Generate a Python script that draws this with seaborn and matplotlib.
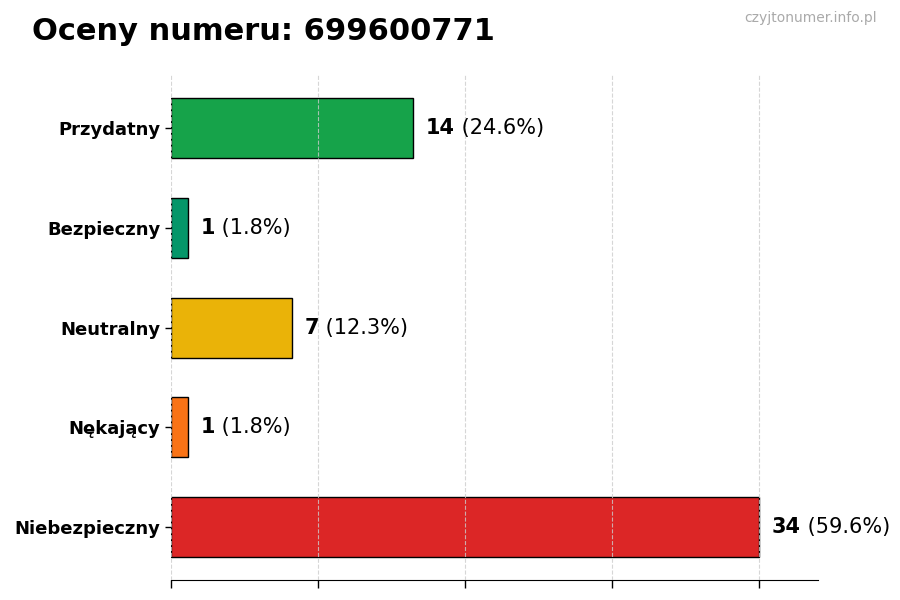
import seaborn as sns
import matplotlib.pyplot as plt
import numpy as np
import pandas as pd

categories = ["Przydatny", "Bezpieczny", "Neutralny", "Nękający", "Niebezpieczny"]
counts = [14, 1, 7, 1, 34]
colors = ["#16a34a", "#059669", "#eab308", "#f97316", "#dc2626"]
phone_number = "699600771"

total = sum(counts)
df = pd.DataFrame({"kategoria": categories, "liczba": counts})

sns.set_style("white")
plt.rcParams['font.family'] = ['DejaVu Sans']
plt.rcParams['text.color'] = 'black'
plt.rcParams['axes.labelcolor'] = 'black'
plt.rcParams['xtick.color'] = 'black'
plt.rcParams['ytick.color'] = 'black'

fig, ax = plt.subplots(figsize=(9, 6), dpi=100)
fig.subplots_adjust(left=0.19, right=0.909, top=0.875, bottom=0.033)

sns.barplot(
    data=df, y="kategoria", x="liczba", hue="kategoria",
    palette=colors, saturation=1, orient="h", width=0.6, edgecolor="black",
    linewidth=1, legend=False, ax=ax,
)

for bar, value in zip(ax.patches, counts):
    y = bar.get_y() + bar.get_height() / 2
    num = ax.annotate(str(value), xy=(bar.get_width(), y), xytext=(9, 0),
                      textcoords="offset points", va="center", ha="left",
                      fontsize=15, fontweight="bold", color="black")
    ax.annotate(f" ({value / total * 100:.1f}%)", xy=(1, 0.5), xycoords=num,
                va="center", ha="left", fontsize=15, color="black")

max_val = max(counts)
ax.set_xlim(0, max_val * 1.1)
ax.set_ylim(len(categories) - 1 + 0.53, -0.53)
ax.set_xticks(np.linspace(0, max_val, 5))
ax.set_xticklabels([])
ax.tick_params(axis="x", bottom=True, length=6, width=1, colors="black")
ax.tick_params(axis="y", left=True, length=4, width=1, labelsize=13, colors="black")
for lbl in ax.get_yticklabels():
    lbl.set_fontweight("bold")
ax.set_xlabel("")
ax.set_ylabel("")

ax.grid(axis="x", linestyle="--", color="#cccccc", alpha=0.8, linewidth=0.8)
ax.set_axisbelow(False)
for side in ["top", "right", "left"]:
    ax.spines[side].set_visible(False)
ax.spines["bottom"].set_color("black")

fig.text(0.036, 0.947, f"Oceny numeru: {phone_number}", fontsize=22,
         fontweight="bold", va="center", ha="left", color="black")
fig.text(0.974, 0.97, "czyjtonumer.info.pl", fontsize=10, color="#aaaaaa",
         va="center", ha="right")

fig.savefig("out.png", dpi=100)
